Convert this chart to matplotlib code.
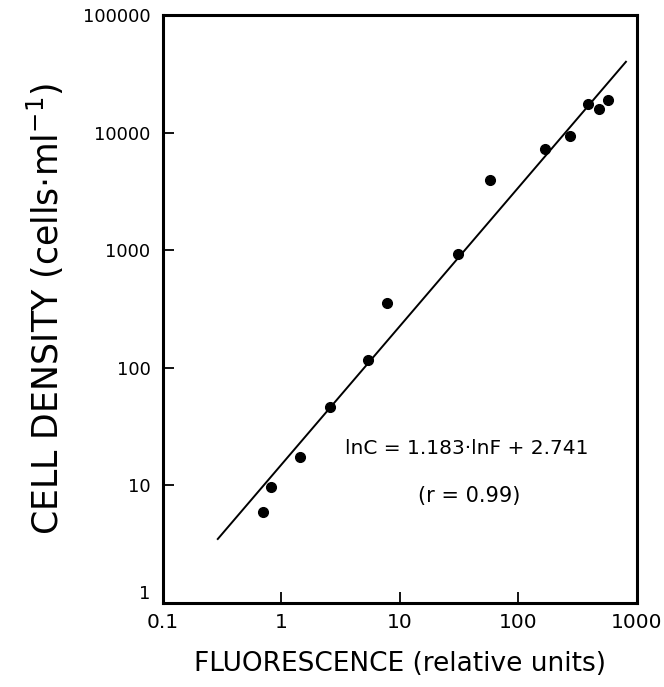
import numpy as np
import matplotlib.pyplot as plt

# data
fluorescence = [0.70, 0.81, 1.43, 2.58, 5.4, 7.8, 31, 57.5, 167, 274, 391, 484, 577]
cell_density = [5.9, 9.6, 17.4, 46, 117, 358, 929, 3930, 7300, 9360, 17400, 15900, 18900]

# regression line end points (lnC = 1.183*lnF + 2.741)
fit_x = [0.29, 810]
fit_y = [3.5, 40000]

xticks = [0.1, 1, 10, 100, 1000]
xticklabels = ['0.1', '1', '10', '100', '1000']
yticks = [1, 10, 100, 1000, 10000, 100000]
yticklabels = ['1', '10', '100', '1000', '10000', '100000']

fig = plt.figure(figsize=(6.64, 6.87), dpi=100)
ax = fig.add_axes([0.2455, 0.1223, 0.7135, 0.8559])

ax.plot(fit_x, fit_y, color='black', lw=1.4)
ax.plot(fluorescence, cell_density, 'o', color='black', ms=7)

ax.set_xscale('log')
ax.set_yscale('log')
ax.set_xlim(0.1, 1000)
ax.set_ylim(1, 100000)

ax.set_xticks(xticks)
ax.set_xticklabels(xticklabels)
ax.set_yticks(yticks)
ax.set_yticklabels(yticklabels)
ax.minorticks_off()

for s in ax.spines.values():
    s.set_linewidth(2.2)

ax.tick_params(axis='both', which='major', direction='in', length=8, width=1.3)
ax.tick_params(axis='y', pad=9, labelsize=13)
ax.tick_params(axis='x', pad=7, labelsize=14.5)

# the "1" label sits just above the corner
ax.get_yticklabels()[0].set_va('bottom')
# last x label is pulled in a bit
ax.get_xticklabels()[-1].set_ha('center')
ax.get_xticklabels()[-1].set_x(0)

ax.set_xlabel('FLUORESCENCE (relative units)', fontsize=19, labelpad=14)
ax.set_ylabel(r'CELL DENSITY (cells$\cdot$ml$^{-1}$)', fontsize=25, labelpad=12)

ax.text(0.641, 0.262, 'lnC = 1.183\u00b7lnF + 2.741', transform=ax.transAxes,
        ha='center', va='center', fontsize=14.5)
ax.text(0.646, 0.182, '(r = 0.99)', transform=ax.transAxes,
        ha='center', va='center', fontsize=15)

fig.savefig('out.png', dpi=100)
